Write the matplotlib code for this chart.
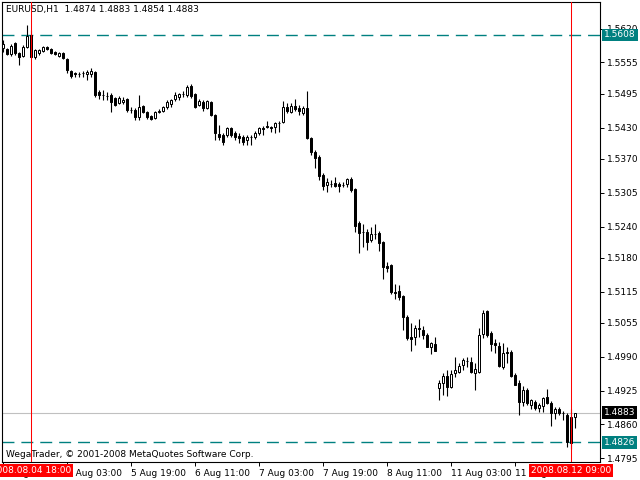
import numpy as np
import matplotlib
matplotlib.use("Agg")
import matplotlib.pyplot as plt

# EURUSD H1, 2008-08-04 11:00 .. 2008-08-12 10:00 (one bar per hour, weekend skipped)
opens = [1.5583, 1.5581, 1.5572, 1.5593, 1.5573, 1.5568, 1.5585, 1.5608, 1.5566, 1.5573,
         1.5577, 1.5585, 1.5581, 1.5575, 1.5568, 1.5573, 1.5562, 1.5539, 1.5535, 1.5533,
         1.5535, 1.5533, 1.5533, 1.5537, 1.5499, 1.5493, 1.5491, 1.5493, 1.5487, 1.5477,
         1.5479, 1.5485, 1.5464, 1.5464, 1.5450, 1.5472, 1.5460, 1.5452, 1.5449, 1.5460,
         1.5462, 1.5470, 1.5476, 1.5485, 1.5489, 1.5495, 1.5493, 1.5510, 1.5495, 1.5474,
         1.5479, 1.5468, 1.5479, 1.5454, 1.5418, 1.5416, 1.5416, 1.5429, 1.5420, 1.5414,
         1.5412, 1.5406, 1.5412, 1.5412, 1.5420, 1.5429, 1.5433, 1.5431, 1.5431, 1.5439,
         1.5441, 1.5470, 1.5460, 1.5472, 1.5468, 1.5458, 1.5468, 1.5410, 1.5383, 1.5374,
         1.5339, 1.5320, 1.5322, 1.5324, 1.5322, 1.5320, 1.5322, 1.5331, 1.5312, 1.5247,
         1.5230, 1.5230, 1.5214, 1.5226, 1.5228, 1.5210, 1.5164, 1.5166, 1.5114, 1.5116,
         1.5107, 1.5066, 1.5028, 1.5028, 1.5045, 1.5041, 1.5032, 1.5009, 1.5014, 1.4930,
         1.4940, 1.4953, 1.4932, 1.4959, 1.4961, 1.4974, 1.4982, 1.4980, 1.4959, 1.4961,
         1.5034, 1.5078, 1.5036, 1.5016, 1.5011, 1.4970, 1.4999, 1.4999, 1.4955, 1.4940,
         1.4903, 1.4926, 1.4897, 1.4903, 1.4892, 1.4895, 1.4913, 1.4901, 1.4883, 1.4890,
         1.4883, 1.4878, 1.4824, 1.4874]
highs = [1.5598, 1.5583, 1.5591, 1.5595, 1.5575, 1.5589, 1.5627, 1.5618, 1.5581, 1.5581,
         1.5587, 1.5587, 1.5583, 1.5577, 1.5575, 1.5575, 1.5564, 1.5541, 1.5537, 1.5537,
         1.5539, 1.5541, 1.5545, 1.5539, 1.5502, 1.5502, 1.5499, 1.5497, 1.5489, 1.5491,
         1.5489, 1.5487, 1.5470, 1.5468, 1.5493, 1.5474, 1.5462, 1.5454, 1.5462, 1.5466,
         1.5472, 1.5483, 1.5485, 1.5499, 1.5497, 1.5500, 1.5512, 1.5514, 1.5497, 1.5485,
         1.5483, 1.5483, 1.5481, 1.5456, 1.5435, 1.5420, 1.5431, 1.5431, 1.5424, 1.5420,
         1.5416, 1.5416, 1.5416, 1.5424, 1.5431, 1.5433, 1.5443, 1.5433, 1.5441, 1.5443,
         1.5481, 1.5477, 1.5477, 1.5485, 1.5474, 1.5472, 1.5500, 1.5412, 1.5387, 1.5378,
         1.5343, 1.5333, 1.5329, 1.5335, 1.5326, 1.5326, 1.5333, 1.5335, 1.5314, 1.5251,
         1.5245, 1.5235, 1.5239, 1.5245, 1.5232, 1.5212, 1.5172, 1.5168, 1.5130, 1.5128,
         1.5109, 1.5070, 1.5055, 1.5051, 1.5062, 1.5049, 1.5036, 1.5018, 1.5028, 1.4945,
         1.4959, 1.4965, 1.4965, 1.4989, 1.4978, 1.4988, 1.4989, 1.4989, 1.4978, 1.5045,
         1.5080, 1.5080, 1.5039, 1.5024, 1.5018, 1.5016, 1.5009, 1.5003, 1.4959, 1.4945,
         1.4934, 1.4930, 1.4909, 1.4907, 1.4901, 1.4913, 1.4928, 1.4905, 1.4893, 1.4893,
         1.4886, 1.4883, 1.4890, 1.4883]
lows = [1.5575, 1.5570, 1.5568, 1.5570, 1.5550, 1.5566, 1.5583, 1.5564, 1.5562, 1.5570,
        1.5575, 1.5579, 1.5572, 1.5570, 1.5566, 1.5562, 1.5535, 1.5525, 1.5527, 1.5527,
        1.5527, 1.5522, 1.5527, 1.5489, 1.5485, 1.5483, 1.5483, 1.5460, 1.5472, 1.5476,
        1.5476, 1.5460, 1.5458, 1.5445, 1.5445, 1.5458, 1.5447, 1.5445, 1.5447, 1.5458,
        1.5460, 1.5466, 1.5470, 1.5481, 1.5483, 1.5489, 1.5489, 1.5487, 1.5468, 1.5472,
        1.5462, 1.5466, 1.5452, 1.5406, 1.5406, 1.5397, 1.5412, 1.5412, 1.5406, 1.5401,
        1.5397, 1.5397, 1.5397, 1.5408, 1.5416, 1.5416, 1.5429, 1.5422, 1.5420, 1.5422,
        1.5439, 1.5458, 1.5458, 1.5462, 1.5454, 1.5454, 1.5408, 1.5378, 1.5353, 1.5329,
        1.5310, 1.5306, 1.5316, 1.5316, 1.5306, 1.5316, 1.5316, 1.5306, 1.5230, 1.5189,
        1.5201, 1.5195, 1.5210, 1.5216, 1.5193, 1.5139, 1.5153, 1.5111, 1.5101, 1.5099,
        1.5041, 1.5022, 1.5001, 1.5013, 1.5028, 1.5024, 1.5009, 1.4995, 1.5001, 1.4907,
        1.4916, 1.4915, 1.4930, 1.4951, 1.4959, 1.4965, 1.4970, 1.4959, 1.4926, 1.4959,
        1.5026, 1.5028, 1.5001, 1.4997, 1.4970, 1.4966, 1.4978, 1.4951, 1.4936, 1.4878,
        1.4895, 1.4897, 1.4890, 1.4888, 1.4884, 1.4884, 1.4899, 1.4857, 1.4870, 1.4878,
        1.4868, 1.4817, 1.4813, 1.4854]
closes = [1.5591, 1.5572, 1.5587, 1.5573, 1.5566, 1.5585, 1.5606, 1.5566, 1.5579, 1.5579,
          1.5585, 1.5581, 1.5573, 1.5572, 1.5573, 1.5564, 1.5541, 1.5529, 1.5533, 1.5532,
          1.5534, 1.5537, 1.5539, 1.5493, 1.5493, 1.5492, 1.5490, 1.5479, 1.5474, 1.5487,
          1.5483, 1.5464, 1.5463, 1.5450, 1.5470, 1.5460, 1.5450, 1.5447, 1.5460, 1.5462,
          1.5470, 1.5479, 1.5483, 1.5493, 1.5495, 1.5494, 1.5508, 1.5491, 1.5470, 1.5481,
          1.5468, 1.5481, 1.5454, 1.5420, 1.5412, 1.5403, 1.5429, 1.5416, 1.5412, 1.5410,
          1.5403, 1.5412, 1.5411, 1.5420, 1.5429, 1.5428, 1.5431, 1.5430, 1.5439, 1.5438,
          1.5470, 1.5462, 1.5472, 1.5466, 1.5462, 1.5468, 1.5410, 1.5383, 1.5372, 1.5337,
          1.5318, 1.5326, 1.5321, 1.5318, 1.5318, 1.5319, 1.5331, 1.5310, 1.5241, 1.5228,
          1.5229, 1.5210, 1.5226, 1.5225, 1.5208, 1.5162, 1.5160, 1.5114, 1.5113, 1.5105,
          1.5066, 1.5026, 1.5024, 1.5045, 1.5044, 1.5032, 1.5009, 1.5016, 1.5001, 1.4940,
          1.4953, 1.4932, 1.4957, 1.4965, 1.4972, 1.4984, 1.4981, 1.4961, 1.4966, 1.5032,
          1.5074, 1.5032, 1.5014, 1.5013, 1.4972, 1.4997, 1.4997, 1.4953, 1.4936, 1.4903,
          1.4926, 1.4901, 1.4907, 1.4892, 1.4897, 1.4911, 1.4901, 1.4883, 1.4890, 1.4883,
          1.4882, 1.4826, 1.4874, 1.4883]

time_ticks = [0, 16, 32, 48, 64, 80, 96, 112, 128]
time_labels = ["4 Aug 11:00", "5 Aug 03:00", "5 Aug 19:00", "6 Aug 11:00", "7 Aug 03:00",
               "7 Aug 19:00", "8 Aug 11:00", "11 Aug 03:00", "11 Aug 19:00"]
price_ticks = [1.5620, 1.5555, 1.5495, 1.5430, 1.5370, 1.5305, 1.5240, 1.5180, 1.5115,
               1.5055, 1.4990, 1.4925, 1.4860, 1.4795]
levels = [1.5608, 1.4826]       # dashed horizontal lines
bid = 1.4883
cross_bars = [7, 142]
cross_labels = ["2008.08.04 18:00", "2008.08.12 09:00"]

TEAL = "#008080"
FS = 6.5

o, h, l, c = map(np.array, (opens, highs, lows, closes))
x = np.arange(len(o))

fig = plt.figure(figsize=(6.4, 4.8), dpi=100)
ax = fig.add_axes([2 / 640, 18 / 480, 598 / 640, 460 / 480])

ax.vlines(x, l, h, color="black", lw=0.8, zorder=2)
up = c >= o
body = np.maximum(np.abs(c - o), 0.00002)
ax.bar(x, body, bottom=np.minimum(o, c), width=0.5,
       color=np.where(up, "white", "black"), edgecolor="black", lw=0.72, zorder=3)

for lv in levels:
    ax.axhline(lv, color=TEAL, lw=1.0, dashes=(8.6, 5.0), zorder=1)
ax.axhline(bid, color="#c0c0c0", lw=0.8, zorder=1)
for b in cross_bars:
    ax.axvline(b, color="red", lw=0.75, zorder=4)

ax.set_xlim(-0.25, 149.25)
ax.set_ylim(1.4788, 1.5671)

ax.yaxis.tick_right()
ax.set_yticks(price_ticks)
ax.set_yticklabels([f"{p:.4f}" for p in price_ticks])
ax.set_xticks(time_ticks)
ax.set_xticklabels(time_labels, ha="left")
ax.tick_params(axis="both", length=3, width=0.7, labelsize=FS, pad=2, colors="black")
for s in ax.spines.values():
    s.set_linewidth(0.8)

ax.text(0.007, 0.983, "EURUSD,H1  1.4874 1.4883 1.4854 1.4883", transform=ax.transAxes,
        fontsize=FS, va="center", ha="left")
ax.text(0.007, 0.017, "WegaTrader, \u00a9 2001-2008 MetaQuotes Software Corp.",
        transform=ax.transAxes, fontsize=FS, va="center", ha="left")

for val, bg in [(levels[0], TEAL), (bid, "black"), (levels[1], TEAL)]:
    ax.annotate(f"{val:.4f}", xy=(1, val), xycoords=("axes fraction", "data"),
                xytext=(3, 0), textcoords="offset points", ha="left", va="center",
                fontsize=FS, color="white", annotation_clip=False, zorder=6,
                bbox=dict(boxstyle="square,pad=0.2", fc=bg, ec="none"))
for b, lab in zip(cross_bars, cross_labels):
    ax.annotate(lab, xy=(b, 0), xycoords=("data", "axes fraction"),
                xytext=(0, -6), textcoords="offset points", ha="center", va="center",
                fontsize=FS, color="white", annotation_clip=False, zorder=6,
                bbox=dict(boxstyle="square,pad=0.25", fc="red", ec="none"))

fig.savefig("out.png", dpi=100)
